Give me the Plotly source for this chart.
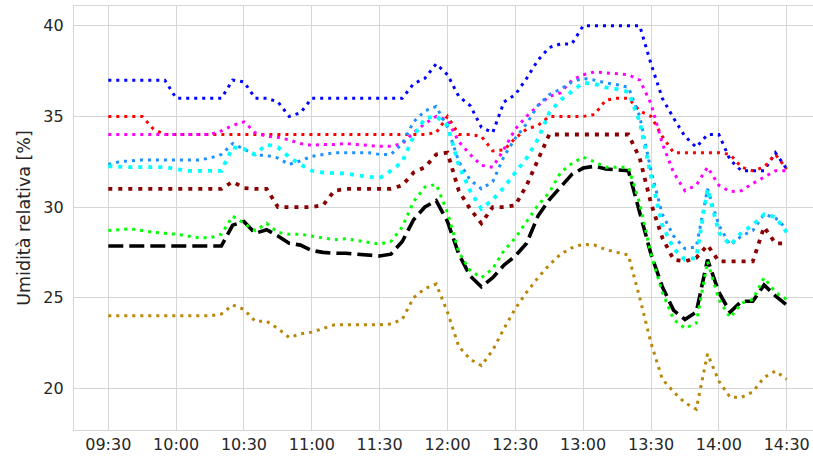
import pandas as pd
import plotly.graph_objects as go

times = pd.date_range("2023-01-01 09:30", "2023-01-01 14:30", freq="5min")

blue = [37, 37, 37, 37, 37, 37, 36, 36, 36, 36, 36, 37, 36.9, 36, 36, 35.8, 35, 35.2, 36, 36,
        36, 36, 36, 36, 36, 36, 36, 36.8, 37.1, 37.9, 37.3, 36.1, 35.6, 34.4, 34.1, 35.8, 36.2, 37.1,
        38.1, 38.8, 39.0, 39.0, 40, 40, 40, 40, 40, 40, 37.9, 36.0, 34.9, 33.9, 33.3, 34.0, 34.0,
        32.6, 32.0, 32.0, 32.0, 33.0, 32.1]
red = [35, 35, 35, 35, 34.3] + [34] * 24 + [34.1, 35.0, 34.0, 34.0, 33.9, 33.1, 33.15, 33.8, 34.3,
        34.5, 35.0, 35.0, 35.0, 35.0, 35.1, 35.9, 36.0, 36.0, 35.3, 35.0, 33.9, 33.0, 33.0, 33.0,
        33.0, 33.0, 32.9, 32.2, 32.0, 32.2, 32.9, 32.1]
magenta = [34.0] * 10 + [34.2, 34.5, 34.7, 34.1, 33.9, 33.85, 33.7, 33.5, 33.4, 33.45, 33.45, 33.5,
        33.45, 33.4, 33.35, 33.35, 33.5, 34.1, 34.6, 35.0, 34.8, 33.6, 32.9, 32.3, 32.2, 33.2, 34.3,
        35.0, 35.6, 36.1, 36.3, 37.0, 37.3, 37.45, 37.4, 37.35, 37.3, 37.0, 35.7, 33.5, 31.9, 30.9,
        31.2, 32.2, 31.2, 30.85, 30.9, 31.3, 31.65, 32.0, 32.0]
dodger = [32.35, 32.5, 32.55, 32.6, 32.6, 32.6, 32.6, 32.6, 32.6, 32.7, 32.9, 33.5, 33.2, 32.85,
        32.85, 32.7, 32.35, 32.55, 32.8, 32.9, 33.0, 33.0, 33.0, 33.0, 32.9, 32.9, 33.5, 34.7, 35.3,
        35.55, 34.4, 32.5, 31.5, 31.0, 31.4, 32.8, 33.8, 34.6, 35.6, 36.2, 36.5, 36.9, 37.1, 37.0,
        36.85, 36.75, 36.6, 35.0, 32.0, 29.6, 28.4, 27.7, 27.8, 31.0, 29.0, 27.9, 28.4, 28.7, 29.6,
        29.4, 28.8]
cyan = [32.25, 32.2, 32.2, 32.2, 32.2, 32.2, 32.1, 32.0, 32.0, 32.0, 32.0, 33.3, 33.2, 32.9, 33.45,
        33.3, 32.75, 32.35, 32.0, 31.9, 31.9, 31.85, 31.75, 31.65, 31.6, 32.0, 32.5, 33.9, 34.9, 35.0,
        34.5, 32.3, 30.9, 29.9, 30.4, 31.1, 31.9, 32.7, 33.75, 35.2, 35.9, 36.4, 36.85, 36.8, 36.6,
        36.5, 36.35, 34.7, 31.7, 29.0, 27.7, 27.1, 27.2, 31.0, 28.6, 27.9, 28.6, 29.0, 29.6, 29.45,
        28.6]
darkred = [31.0] * 11 + [31.4, 31.05, 31.0, 31.0, 30.0, 30.0, 30.0, 30.0, 30.1, 30.9,
        31.0, 31.0, 31.0, 31.0, 31.0, 31.2, 31.9, 32.2, 32.9, 33.0,
        30.9, 29.9, 29.1, 30.0, 30.0, 30.1, 31.2, 32.6, 34.0, 34.0,
        34.0, 34.0, 34.0, 34.0, 34.0, 34.0, 32.7, 30.2, 28.3, 27.1,
        27.0, 27.2, 27.9, 27.0, 27.0, 27.0, 27.0, 28.9, 28.0, 28.0]
black = [27.85] * 11 + [29.0, 29.2, 28.55, 28.75, 28.4, 28.0, 27.9, 27.6, 27.5, 27.45, 27.45, 27.4,
        27.35, 27.3, 27.4, 28.1, 29.3, 30.0, 30.35, 29.2, 27.4, 26.2, 25.6, 26.1, 26.8, 27.3, 28.0,
        29.5, 30.4, 31.1, 31.8, 32.15, 32.25, 32.1, 32.05, 32.0, 29.7, 27.4, 25.6, 24.3, 23.8, 24.2,
        27.1, 25.3, 24.2, 24.8, 24.8, 25.7, 25.1, 24.6]
green = [28.7, 28.75, 28.8, 28.7, 28.6, 28.55, 28.5, 28.4, 28.3, 28.3, 28.5, 29.5, 29.1, 28.7, 29.1,
        28.6, 28.5, 28.5, 28.4, 28.3, 28.2, 28.25, 28.15, 28.05, 27.95, 28.1, 28.9, 30.3, 31.1, 31.25,
        29.7, 27.5, 26.5, 26.1, 26.6, 27.6, 28.3, 29.2, 30.1, 30.8, 31.9, 32.4, 32.75, 32.5, 32.2,
        32.2, 32.2, 30.2, 27.4, 25.3, 23.8, 23.3, 23.6, 27.0, 24.9, 23.9, 24.7, 24.9, 26.1, 25.3, 24.9]
gold = [24.0] * 10 + [24.1, 24.6, 24.35, 23.7, 23.7, 23.3, 22.8, 23.0, 23.1, 23.3, 23.5, 23.5, 23.5,
        23.5, 23.5, 23.55, 23.8, 25.0, 25.5, 25.75, 24.2, 22.3, 21.6, 21.25, 22.1, 23.3, 24.4, 25.3,
        26.1, 26.8, 27.4, 27.75, 27.95, 27.9, 27.65, 27.5, 27.35, 25.0, 22.5, 20.5, 19.8, 19.2, 18.85,
        21.9, 20.4, 19.5, 19.5, 19.8, 20.6, 20.95, 20.5]

y_ticks = [20, 25, 30, 35, 40]

series = [
    (blue, "#0000ff", 3, "3px,5px"),
    (red, "#ff0000", 3, "3px,5px"),
    (magenta, "#ff00ff", 3, "3px,5px"),
    (dodger, "#1e90ff", 3, "3px,5px"),
    (cyan, "#00ffff", 3.8, "4px,6px"),
    (darkred, "#8b0000", 3.8, "4px,6px"),
    (gold, "#b8860b", 3, "3px,5px"),
    (black, "#000000", 3.6, "15px,6px"),
    (green, "#00ff00", 3, "3px,5px"),
]

fig = go.Figure()
for vals, col, w, dash in series:
    fig.add_trace(go.Scatter(x=times, y=vals, mode="lines",
                             line=dict(color=col, width=w, dash=dash),
                             showlegend=False, hoverinfo="skip"))

grid = "#d6d6d6"
fnt = "DejaVu Sans, Verdana, sans-serif"
fig.update_layout(
    width=813, height=461,
    margin=dict(l=74, r=0, t=6, b=31),
    paper_bgcolor="white", plot_bgcolor="white",
    font=dict(family=fnt, size=16, color="#262626"),
    xaxis=dict(type="date", range=["2023-01-01 09:14:50", "2023-01-01 14:41:38"],
               tick0="2023-01-01 09:30", dtick=1800000, tickformat="%H:%M",
               showgrid=True, gridcolor=grid, gridwidth=1.3,
               showline=True, linecolor=grid, linewidth=1.3, mirror=True,
               ticks="", zeroline=False, tickfont=dict(family=fnt, size=16, color="#262626")),
    yaxis=dict(range=[17.7, 41.09], tickvals=y_ticks,
               showgrid=True, gridcolor=grid, gridwidth=1.3,
               showline=True, linecolor=grid, linewidth=1.3, mirror=False,
               ticks="", zeroline=False, ticklabelstandoff=6,
               tickfont=dict(family=fnt, size=16, color="#262626"),
               title=dict(text="Umidità relativa [%]", font=dict(family=fnt, size=17.5, color="#262626"),
                          standoff=8)),
)

fig.write_html("out.html")
